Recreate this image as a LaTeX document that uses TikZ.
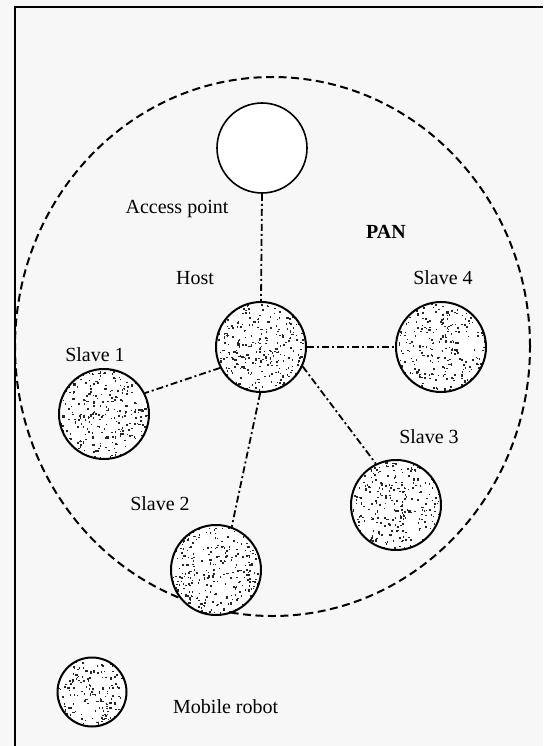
\documentclass[tikz,border=0pt]{standalone}
\usepackage{fontspec}
\setmainfont{Liberation Serif}
\usetikzlibrary{calc}
\begin{document}
\begin{tikzpicture}[x=1pt,y=-1pt,
  robot/.style={circle,draw,fill=white,line width=2pt,inner sep=0pt,minimum size=90pt,
    path picture={\foreach \i in {1,...,300}{
      \fill[black!85] ($(path picture bounding box.center)+({rand*44},{rand*44})$)
        rectangle ++({0.8+rnd*1.6},{0.8+rnd*1.6});}}},
  apoint/.style={circle,draw,fill=white,line width=1.6pt,inner sep=0pt,minimum size=90pt},
  link/.style={line width=1.8pt,dash pattern=on 7pt off 3pt on 2pt off 3pt},
  lbl/.style={font=\fontsize{20}{22}\selectfont,inner sep=0pt}]
\pgfmathsetseed{7}
\fill[black!3] (0,0) rectangle (543,746);
\useasboundingbox (0,0) rectangle (543,746);
% frame
\coordinate (fa) at (15,746);
\coordinate (fb) at (15,7);
\coordinate (fc) at (543,7);
\draw[line width=2pt] (fa) -- (fb) -- (fc);
% PAN region
\coordinate (pc) at (272.5,346.5);
\draw[line width=2pt,dash pattern=on 8pt off 4.5pt] (pc) ellipse [x radius=257.5pt, y radius=269.5pt];
% nodes
\node[apoint] (ap) at (262,148) {};
\node[robot] (host) at (261,347) {};
\node[robot] (s1) at (104,414) {};
\node[robot] (s2) at (216,570) {};
\node[robot] (s3) at (396,505) {};
\node[robot] (s4) at (441,347) {};
\node[robot,minimum size=69pt] (mr) at (92,692) {};
% labels
\node[lbl] (lap) at (177,209) {Access point};
\node[lbl] (lhost) at (195,278) {Host};
\node[lbl,font=\fontsize{20}{22}\selectfont\bfseries] (lpan) at (386,232) {PAN};
\node[lbl] (ls1) at (95,355) {Slave 1};
\node[lbl] (ls2) at (160,504) {Slave 2};
\node[lbl] (ls3) at (429,437) {Slave 3};
\node[lbl] (ls4) at (443,278) {Slave 4};
\node[lbl,anchor=west] (lmr) at (173,707) {Mobile robot};
% links
\draw[link] (ap.south) -- (host.north);
\draw[link] (host.east) -- (s4.west);
\draw[link] (host.-25) -- (s3.116);
\draw[link] (host.-91) -- (s2.70);
\draw[link] (host.207) -- (s1.27);
\end{tikzpicture}
\end{document}
